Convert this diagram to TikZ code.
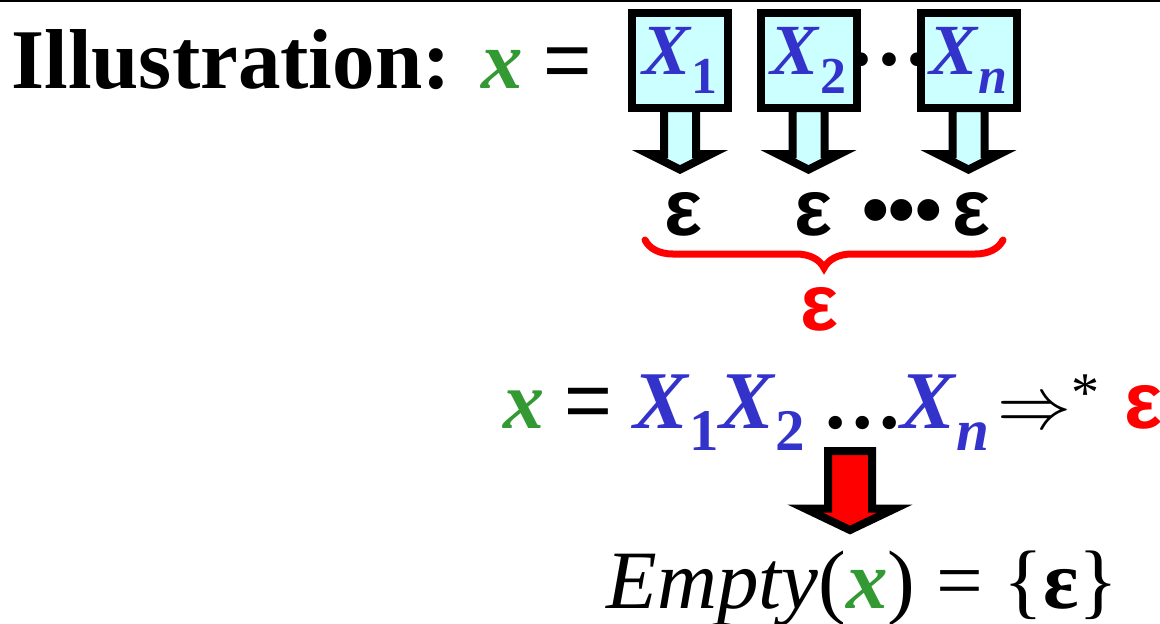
\documentclass[tikz,border=0pt]{standalone}
\usepackage{fontspec}
\setmainfont{Liberation Serif}
\newfontfamily\epsfont{Liberation Sans}
\usepackage{graphicx}
\usetikzlibrary{decorations.pathreplacing,calc}

\definecolor{vargreen}{HTML}{339933}
\definecolor{symblue}{HTML}{3333CC}
\definecolor{boxcyan}{HTML}{CCFFFF}

\newcommand\Xsub[1]{\textit{X}\raisebox{-.27em}{\scalebox{.72}{#1}}}
\newcommand\sz[1]{\fontsize{#1}{#1}\selectfont}

\tikzset{
  txt/.style={inner sep=0pt, anchor=base},
  xbox/.style={draw, line width=4pt, fill=boxcyan, text=symblue, minimum width=48pt,
    minimum height=47.5pt, inner sep=0pt, font=\sz{36pt}\bfseries},
  eps/.style={txt, font=\epsfont\sz{40pt}\bfseries},
  blockarrow/.style n args={4}{draw, line width=4pt, line join=miter,
    to path={let \p1=(\tikztostart), \p2=(\tikztotarget) in
      (\x1-#1,\y1+2pt) -- (\x1-#1,\y2+#4+#3) -- (\x1-#2,\y2+#4+#3) -- (\x1,\y2+#4)
      -- (\x1+#2,\y2+#4+#3) -- (\x1+#1,\y2+#4+#3) -- (\x1+#1,\y1+2pt) -- cycle}},
  redbrace/.style={draw=red, line width=3.5pt, line cap=round, decorate,
    decoration={brace, mirror, amplitude=14pt}}
}

\begin{document}
\begin{tikzpicture}[x=0.5pt, y=-0.5pt]
  \useasboundingbox (0,0) rectangle (1160,623);
  \draw[line width=1.2pt] (0,1.2) -- (1160,1.2);

  % heading
  \node[txt, anchor=base west, font=\sz{42.5pt}\bfseries] (title) at (11,88) {Illustration:};
  \node[txt, anchor=base west, font=\sz{41.5pt}] (lhs) at (481,88)
    {{\color{vargreen}\bfseries\itshape x} {\epsfont =}};

  % the symbols X_1 ... X_n
  \node[txt, font=\sz{42pt}\bfseries] (tdots) at (890,87) {\textperiodcentered\textperiodcentered\textperiodcentered};
  \node[xbox] (b1) at (680,60.5) {\Xsub{1}};
  \node[xbox] (b2) at (808.5,60.5) {\Xsub{2}};
  \node[xbox] (b3) at (968.5,60.5) {\Xsub{\textit{n}}};

  % each one derives epsilon
  \node[eps] (e1) at (683,235) {ε};
  \node[eps] (e2) at (813,235) {ε};
  \node[eps] (e3) at (971,235) {ε};
  \node[txt, font=\epsfont\sz{38pt}\bfseries] (edots) at (902,235) {•••};

  \draw[blockarrow={8pt}{15.5pt}{7.75pt}{11pt}, fill=boxcyan] (b1.south) to (e1.north);
  \draw[blockarrow={8pt}{15.5pt}{7.75pt}{11pt}, fill=boxcyan] (b2.south) to (e2.north);
  \draw[blockarrow={8pt}{15.5pt}{7.75pt}{11pt}, fill=boxcyan] (b3.south) to (e3.north);

  \coordinate (bl) at (645,240);
  \coordinate (br) at (1003,240);
  \draw[redbrace] (bl) -- (br);
  \node[eps, text=red] (eall) at (819,330) {ε};

  % the whole string
  \node[txt, anchor=base west, font=\sz{41pt}] (deriv) at (503,428)
    {{\color{vargreen}\bfseries\itshape x} {\epsfont =}
     {\color{symblue}\bfseries\Xsub{1}\Xsub{2}} \textbf{.\kern.08em.\kern.08em.}{\color{symblue}\bfseries\Xsub{\textit{n}}}};
  \node[txt, anchor=base west, font=\sz{41pt}] (imp) at (997,428)
    {\scalebox{3.7}{\sz{10pt}$\Rightarrow$}\raisebox{8.5pt}{\sz{28pt}*}};
  \node[eps, anchor=base west, text=red] (feps) at (1124,428) {ε};

  \node[txt, anchor=base west, font=\sz{41.5pt}] (empty) at (606,608)
    {\textit{Empty}({\color{vargreen}\bfseries\itshape x}) = \{\textbf{ε}\}};

  \coordinate (down) at (850,455);
  \draw[blockarrow={11pt}{22.5pt}{10.75pt}{10pt}, fill=red] (down) to (empty.north);
\end{tikzpicture}
\end{document}
